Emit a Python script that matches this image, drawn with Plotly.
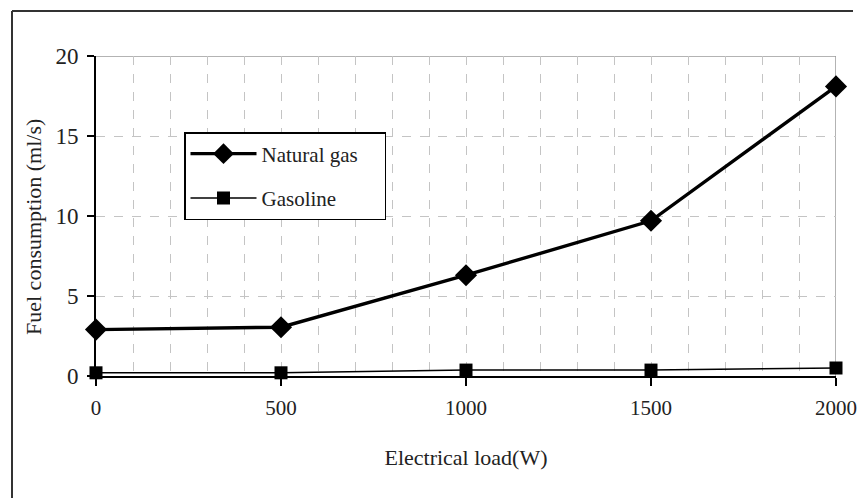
import plotly.graph_objects as go

loads = [0, 500, 1000, 1500, 2000]
natural_gas = [2.9, 3.05, 6.3, 9.7, 18.1]
gasoline = [0.2, 0.2, 0.37, 0.37, 0.5]
x_ticks = [0, 500, 1000, 1500, 2000]
y_ticks = [0, 5, 10, 15, 20]

FONT = "Liberation Serif"
GRID = "#c4c4c4"

W, H = 857, 498
ML, MT = 12, 11          # outer frame (left / top) sits on the paper edge
PW, PH = W - ML, H - MT  # paper size in px


def px_x(px):
    return (px - ML) / PW


def px_y(py):
    return (H - py) / PH


fig = go.Figure()
fig.add_trace(go.Scatter(
    x=loads, y=natural_gas, name="Natural gas\u00a0\u00a0\u00a0\u00a0", mode="lines+markers",
    line=dict(color="black", width=3.4),
    marker=dict(symbol="diamond", size=17, color="black"),
    cliponaxis=False, legendgroup="a"))
fig.add_trace(go.Scatter(
    x=loads, y=gasoline, name="Gasoline", mode="lines+markers",
    line=dict(color="black", width=1.5),
    marker=dict(symbol="square", size=13, color="black"),
    cliponaxis=False, legendgroup="b"))

fig.update_layout(
    width=W, height=H,
    margin=dict(l=ML, r=0, t=MT, b=0, pad=0),
    paper_bgcolor="white", plot_bgcolor="white",
    font=dict(family=FONT, color="#222", size=19),
    showlegend=True,
    legend=dict(
        x=px_x(184), y=px_y(132), xanchor="left", yanchor="top",
        bordercolor="black", borderwidth=1.5, bgcolor="white",
        font=dict(family=FONT, size=21, color="#222"),
        tracegroupgap=14, itemwidth=66),
    xaxis=dict(
        domain=[px_x(96), px_x(836)],
        range=[0, 2000], tickvals=x_ticks, ticktext=[str(v) for v in x_ticks],
        showline=True, linecolor="black", linewidth=2,
        ticks="outside", ticklen=8, tickwidth=1.5, tickcolor="black",
        tickfont=dict(family=FONT, size=21, color="#222"),
        ticklabeloverflow="allow", ticklabelstandoff=4,
        showgrid=True, gridcolor=GRID, griddash="dash", gridwidth=1,
        minor=dict(dtick=100, showgrid=True, gridcolor=GRID, griddash="dash", gridwidth=1),
        zeroline=False, automargin=False,
        title=dict(text="Electrical load(W)", font=dict(family=FONT, size=22, color="#222"), standoff=30),
    ),
    yaxis=dict(
        domain=[px_y(376), px_y(56)],
        range=[0, 20], tickvals=y_ticks, ticktext=[str(v) for v in y_ticks],
        showline=True, linecolor="black", linewidth=2,
        ticks="outside", ticklen=7, tickwidth=1.5, tickcolor="black",
        tickfont=dict(family=FONT, size=23, color="#222"),
        ticklabelstandoff=4,
        showgrid=True, gridcolor=GRID, griddash="dash", gridwidth=1,
        zeroline=False, automargin=False,
    ),
    annotations=[
        dict(text="Fuel consumption (ml/s)", textangle=-90, xref="paper", yref="paper",
             x=px_x(33), y=px_y(227), xanchor="center", yanchor="middle", showarrow=False,
             font=dict(family=FONT, size=22, color="#222")),
    ],
    shapes=[
        # plot-area top and right borders
        dict(type="line", xref="x", yref="y", x0=0, x1=2000, y0=20, y1=20,
             line=dict(color="#9a9a9a", width=1.5), layer="below"),
        dict(type="line", xref="x", yref="y", x0=2000, x1=2000, y0=0, y1=20,
             line=dict(color="#9a9a9a", width=1.5), layer="below"),
        # outer figure frame (left and top), kept inside the paper
        dict(type="line", xref="paper", yref="paper", x0=0, x1=0, y0=0, y1=1,
             line=dict(color="#333", width=2)),
        dict(type="line", xref="paper", yref="paper", x0=0, x1=px_x(853), y0=1, y1=1,
             line=dict(color="#333", width=2)),
    ],
)

fig.write_html("out.html")
